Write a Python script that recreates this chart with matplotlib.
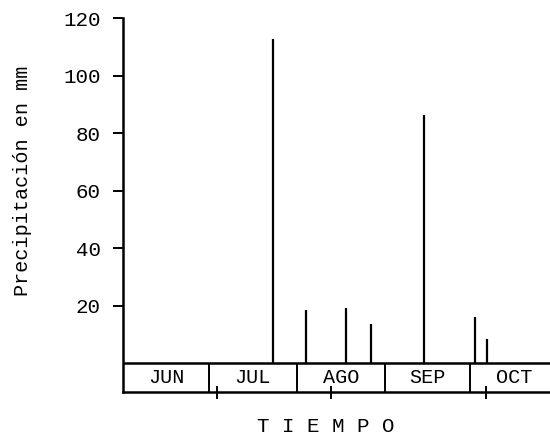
import matplotlib
matplotlib.use("Agg")
import matplotlib.pyplot as plt

# Data (x in days counted from 1 June)
months = ["JUN", "JUL", "AGO", "SEP", "OCT"]
month_lengths = [30, 31, 31, 30, 31]
rain_days = [52.7, 64.2, 78.2, 87.0, 105.6, 123.5, 127.9]
rain_mm = [113, 18.5, 19, 13.5, 86.5, 16, 8.5]
marker_days = [33, 73, 127.5]
yticks = [20, 40, 60, 80, 100, 120]

FONT = "Liberation Mono"
plt.rcParams["font.family"] = [FONT, "DejaVu Sans Mono"]

fig = plt.figure(figsize=(5.5, 4.37), dpi=100)
ax = fig.add_axes([0.2245, 0.103, 0.7755, 0.8547])

box_h = 10.1
ax.set_xlim(0, 150)
ax.set_ylim(-box_h, 120)

# rainfall bars
ax.vlines(rain_days, 0, rain_mm, color="black", linewidth=1.6)

# baseline and month box
ax.axhline(0, color="black", linewidth=1.8)
ax.axhline(-box_h, color="black", linewidth=1.8, clip_on=False)
bounds = [0]
for L in month_lengths:
    bounds.append(bounds[-1] + L)
for b in bounds[1:-1]:
    ax.vlines(b, -box_h, 0, color="black", linewidth=1.4)
for i, m in enumerate(months):
    ax.text((bounds[i] + bounds[i + 1]) / 2, -box_h / 2, m, ha="center",
            va="center", fontsize=14.5, family=FONT, clip_on=True)
ax.vlines(marker_days, -box_h - 2.4, -box_h + 2.2, color="black",
          linewidth=1.4, clip_on=False)

# axes styling
for s in ["top", "right", "bottom"]:
    ax.spines[s].set_visible(False)
ax.spines["left"].set_linewidth(1.8)
ax.set_xticks([])
ax.set_yticks(yticks)
ax.set_yticklabels([str(v) for v in yticks], fontsize=15, family=FONT)
ax.tick_params(axis="y", direction="out", length=7.5, width=1.4, pad=9)

fig.text(22.5 / 550, 1 - 181 / 437, "Precipitación en mm", rotation=90,
         ha="center", va="center", fontsize=14.5, family=FONT)
fig.text(326 / 550, 1 - 427 / 437, "T I E M P O", ha="center", va="center",
         fontsize=15, family=FONT)

fig.savefig("out.png", dpi=100)
